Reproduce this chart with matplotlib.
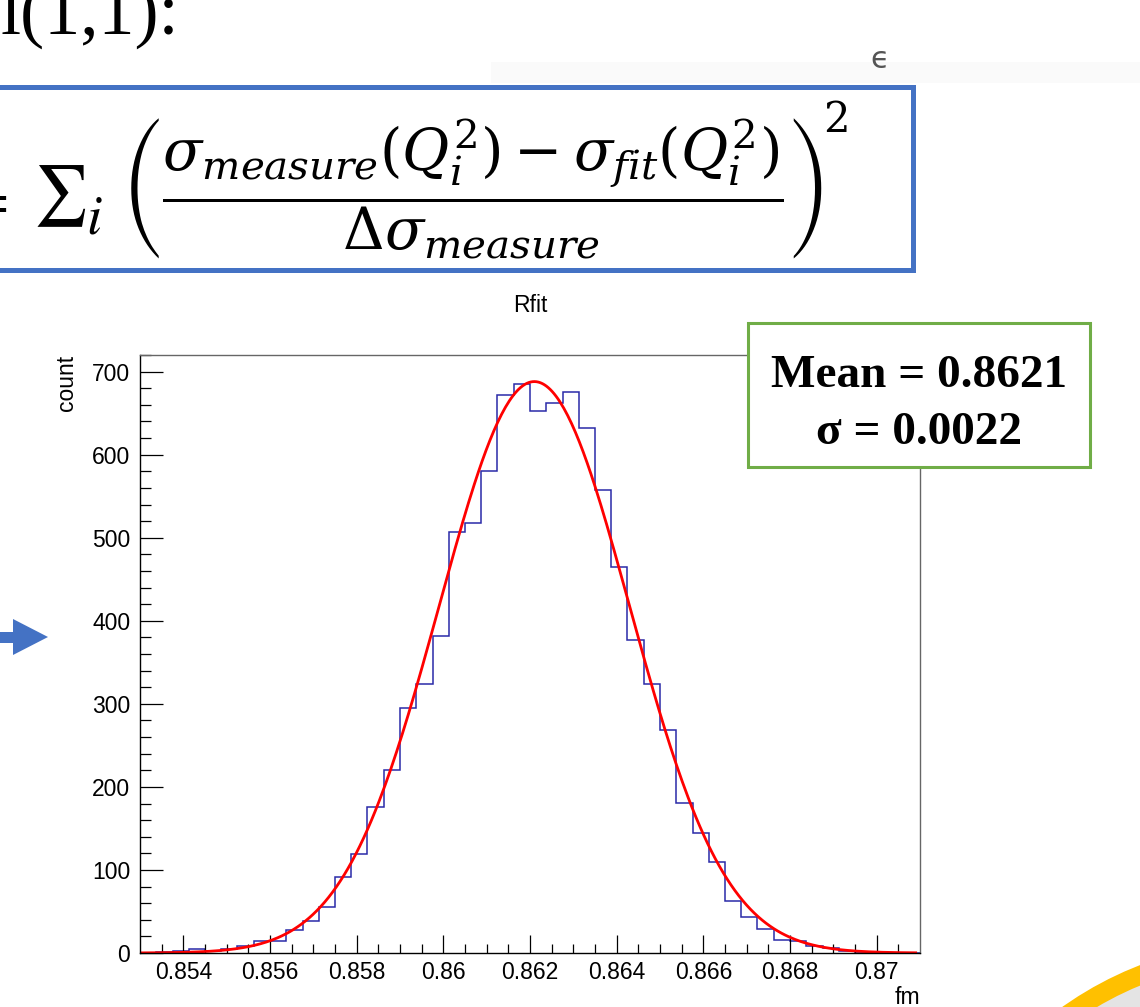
import numpy as np
import matplotlib
matplotlib.use("Agg")
import matplotlib.pyplot as plt
from matplotlib.patches import Rectangle, Polygon, Circle

plt.rcParams['mathtext.fontset'] = 'stix'

# histogram of Rfit (48 bins, 0.853 - 0.871 fm)
bin_edges = np.linspace(0.853, 0.871, 49)
counts = [0, 1, 2, 5, 3, 5, 9, 14, 14, 28, 38, 55,
          91, 119, 176, 220, 295, 324, 382, 507, 518, 580, 672, 685,
          653, 662, 676, 632, 558, 465, 377, 324, 269, 181, 145, 110,
          63, 43, 29, 16, 14, 9, 6, 2, 0, 0, 0, 0]

# gaussian fit
fit_amp = 688
fit_mean = 0.8621
fit_sigma = 0.0022

x_ticks = [0.854, 0.856, 0.858, 0.860, 0.862, 0.864, 0.866, 0.868, 0.870]
x_tick_labels = ['0.854', '0.856', '0.858', '0.86', '0.862', '0.864', '0.866', '0.868', '0.87']
y_ticks = [0, 100, 200, 300, 400, 500, 600, 700]
y_tick_labels = ['0', '100', '200', '300', '400', '500', '600', '700']

W, H = 1140, 1007
fig = plt.figure(figsize=(W / 100, H / 100), dpi=100)
fig.patch.set_facecolor('white')

# ---- histogram panel ----
ax = fig.add_axes([140 / W, 1 - 953 / H, 780 / W, 598 / H])
ax.stairs(counts, bin_edges, color='#2a2aa8', linewidth=1.1)
xf = np.linspace(0.8530, 0.8709, 400)
ax.plot(xf, fit_amp * np.exp(-0.5 * ((xf - fit_mean) / fit_sigma) ** 2),
        color='#ff0000', linewidth=2.0)

ax.set_xlim(0.853, 0.871)
ax.set_ylim(0, 720)
ax.set_xticks(x_ticks)
ax.set_xticklabels(x_tick_labels)
ax.set_xticks(np.arange(0.8535, 0.871, 0.0005), minor=True)
ax.set_yticks(y_ticks)
ax.set_yticklabels(y_tick_labels)
ax.set_yticks(np.arange(0, 721, 20), minor=True)
ax.tick_params(axis='x', which='major', direction='in', length=13, width=0.9, pad=6,
               labelsize=16.5)
ax.tick_params(axis='x', which='minor', direction='in', length=6.5, width=0.9)
ax.tick_params(axis='y', which='major', direction='in', length=16.5, width=0.9, pad=7,
               labelsize=16.5)
ax.tick_params(axis='y', which='minor', direction='in', length=8, width=0.9)
for lab in ax.get_xticklabels() + ax.get_yticklabels():
    lab.set_fontfamily('Liberation Sans')
for s in ['top', 'right']:
    ax.spines[s].set_color('#666666')
    ax.spines[s].set_linewidth(1.0)
for s in ['bottom', 'left']:
    ax.spines[s].set_color('black')
    ax.spines[s].set_linewidth(1.0)

# ---- slide decorations, in pixel coordinates ----
ov = fig.add_axes([0, 0, 1, 1], zorder=10)
ov.set_xlim(0, W)
ov.set_ylim(H, 0)
ov.axis('off')
ov.patch.set_alpha(0)

ov.text(0, 34, 'l(1,1):', fontsize=52, family='Liberation Serif', va='baseline', ha='left')
ov.add_patch(Rectangle((491, 62), 660, 21, facecolor='#fafafa', edgecolor='none'))
ov.text(880, 59, '\u03f5', fontsize=22, color='#555555', ha='center', va='center')

# equation box
ov.add_patch(Rectangle((-20, 86.5), 933, 183, facecolor='none', edgecolor='#4472C4',
                       linewidth=3.6))
ov.text(8, 200, r'$=$', fontsize=43, ha='right', va='center')
ov.text(33, 196, r'$\sum$', fontsize=43, ha='left', va='center')
ov.text(86, 234, r'$i$', fontsize=40, ha='left', va='baseline')
ov.text(120, 189,
        r'$\left(\dfrac{\sigma_{measure}(Q_i^2)-\sigma_{fit}(Q_i^2)}{\Delta\sigma_{measure}}\right)$',
        math_fontfamily='dejavuserif', fontsize=41.5, ha='left', va='center')
ov.text(823, 132, r'$2$', math_fontfamily='dejavuserif', fontsize=30, ha='left',
        va='baseline')

# axis texts
ov.text(530, 305, 'Rfit', fontsize=16.5, family='Liberation Sans', ha='center', va='center')
ov.text(66, 355, 'count', fontsize=16.5, family='Liberation Sans', rotation=90,
        ha='center', va='top')
ov.text(920, 1004, 'fm', fontsize=16.5, family='Liberation Sans', ha='right', va='baseline')

# arrow
ov.add_patch(Polygon([(0, 632), (13, 632), (13, 619), (48, 637), (13, 655), (13, 643), (0, 643)],
                     closed=True, facecolor='#4472C4', edgecolor='none'))

# fit result box
ov.add_patch(Rectangle((747.5, 323), 342.5, 144, facecolor='white', edgecolor='#70AD47',
                       linewidth=2.2))
ov.text(919, 387, 'Mean = 0.8621', fontsize=34, fontweight='bold', family='Liberation Serif',
        ha='center', va='baseline')
ov.text(919, 444, '\u03c3 = 0.0022', fontsize=34, fontweight='bold', family='Liberation Serif',
        ha='center', va='baseline')

# corner swoosh
ov.add_patch(Circle((1269, 1298), 357, facecolor='#FFC000', edgecolor='none'))
ov.add_patch(Circle((1269, 1298), 338, facecolor='#e4e4e4', edgecolor='none'))

fig.savefig('out.png', dpi=100)
